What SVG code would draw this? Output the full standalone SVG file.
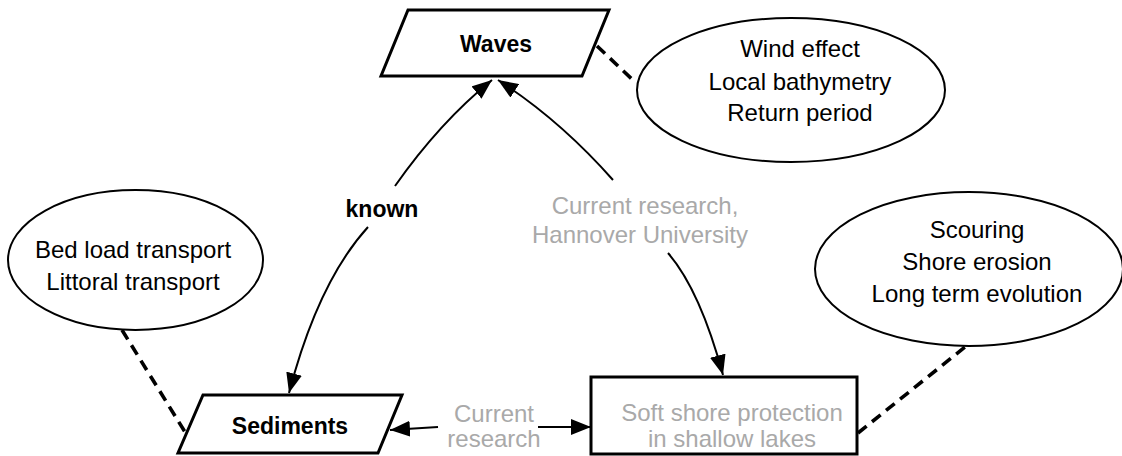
<svg xmlns="http://www.w3.org/2000/svg" width="1122" height="456" viewBox="0 0 1122 456">
<style>
.shape{fill:#fff;stroke:#000;stroke-width:3}
.ell{fill:#fff;stroke:#000;stroke-width:2}
.t{font-family:"Liberation Sans",Arial,sans-serif;font-size:24px;text-anchor:middle;fill:#000}
.b{font-weight:bold;font-size:23px}
.g{fill:#a9a9a9}
.arr{fill:none;stroke:#000;stroke-width:2}
.dash{fill:none;stroke:#000;stroke-width:3.6;stroke-dasharray:11 7}
</style>
<defs>
<marker id="ah" markerUnits="userSpaceOnUse" markerWidth="21" markerHeight="16" refX="20" refY="8" orient="auto">
<path d="M0,0 L20,8 L0,16 z" fill="#000"/>
</marker>
</defs>
<rect width="1122" height="456" fill="#fff"/>
<g id="connectors">
<path class="arr" d="M395,186 Q440,122 492,80" marker-end="url(#ah)"/>
<path class="arr" d="M368,227 Q318,282 289,393" marker-end="url(#ah)"/>
<path class="arr" d="M613,180 Q560,120 498,80" marker-end="url(#ah)"/>
<path class="arr" d="M668,253 Q700,290 723,375" marker-end="url(#ah)"/>
<path class="arr" d="M438,427 L390,430" marker-end="url(#ah)"/>
<path class="arr" d="M538,427 L591,427" marker-end="url(#ah)"/>
<path class="dash" d="M597,46 L635,82"/>
<path class="dash" d="M122,330 L185,432"/>
<path class="dash" d="M858,433 L965,347"/>
</g>
<g id="waves">
<polygon class="shape" points="408,10 609,10 582,76 381,76"/>
<text class="t b" x="496" y="52">Waves</text>
</g>
<g id="sediments">
<polygon class="shape" points="203,395 402,395 378,453 178,453"/>
<text class="t b" x="290" y="434">Sediments</text>
</g>
<g id="soft-shore">
<rect class="shape" x="591" y="377" width="266" height="77" stroke-width="2.5"/>
<text class="t g" x="732" y="421">Soft shore protection</text>
<text class="t g" x="732" y="447">in shallow lakes</text>
</g>
<g id="wind">
<ellipse class="ell" cx="791" cy="90" rx="154" ry="72"/>
<text class="t" x="800" y="57">Wind effect</text>
<text class="t" x="800" y="90">Local bathymetry</text>
<text class="t" x="800" y="121">Return period</text>
</g>
<g id="bedload">
<ellipse class="ell" cx="135.5" cy="260" rx="127.5" ry="70"/>
<text class="t" x="133" y="258">Bed load transport</text>
<text class="t" x="133" y="290">Littoral transport</text>
</g>
<g id="scouring">
<ellipse class="ell" cx="969" cy="269" rx="154" ry="77"/>
<text class="t" x="977" y="238">Scouring</text>
<text class="t" x="977" y="270">Shore erosion</text>
<text class="t" x="977" y="302">Long term evolution</text>
</g>
<g id="labels">
<text class="t b" x="382" y="217">known</text>
<text class="t g" x="645" y="214">Current research,</text>
<text class="t g" x="640" y="243">Hannover University</text>
<text class="t g" x="494" y="422">Current</text>
<text class="t g" x="494" y="447">research</text>
</g>
</svg>
